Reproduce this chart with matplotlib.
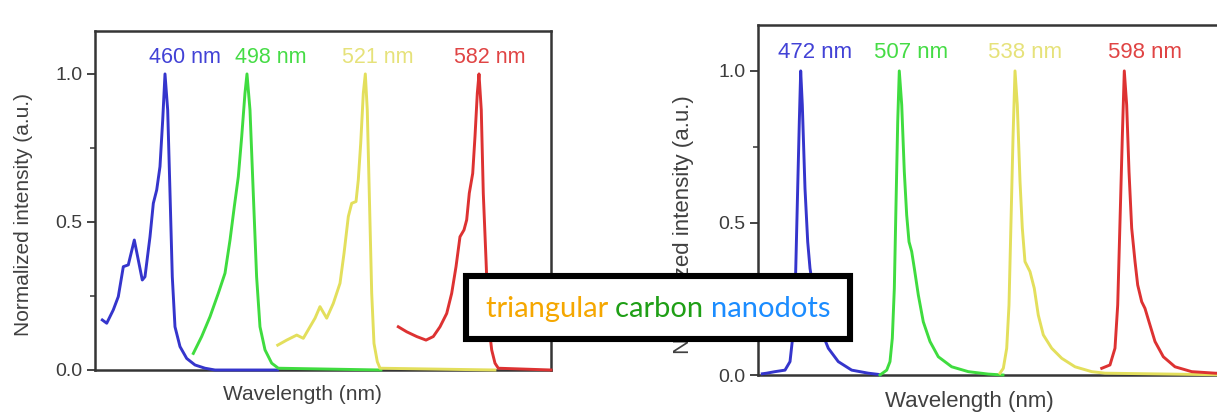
import matplotlib
matplotlib.use("Agg")
import matplotlib.pyplot as plt
from matplotlib.patches import Rectangle
from matplotlib.ticker import MultipleLocator

plt.rcParams["font.family"] = ["Liberation Sans", "DejaVu Sans"]

# emission spectra, x in arbitrary position units (0-100 across each panel)
# left panel
l_blue_x = [1.6, 2.57, 4.01, 5.11, 6.21, 7.30, 8.62, 9.49, 10.37, 10.96, 12.06, 12.79, 13.53,
            14.25, 14.85, 15.35, 15.94, 16.45, 16.95, 17.54, 18.64, 20.11, 21.93, 24.12, 26.32, 40.0]
l_blue_y = [0.169, 0.158, 0.203, 0.248, 0.349, 0.355, 0.439, 0.372, 0.304, 0.315, 0.45, 0.563, 0.608,
            0.687, 0.845, 1.0, 0.878, 0.597, 0.315, 0.146, 0.079, 0.039, 0.017, 0.006, 0.0, 0.0]
l_green_x = [21.56, 23.39, 25.22, 27.04, 28.51, 29.61, 30.55, 31.43, 32.17, 32.89, 33.33, 33.99,
             34.71, 35.44, 36.18, 37.28, 38.75, 40.20, 62.7]
l_green_y = [0.056, 0.113, 0.18, 0.259, 0.327, 0.439, 0.552, 0.653, 0.788, 0.935, 1.0, 0.878,
             0.597, 0.315, 0.146, 0.068, 0.023, 0.006, 0.0]
l_yellow_x = [40.07, 42.04, 44.24, 45.68, 47.15, 48.25, 49.34, 50.81, 52.26, 53.73, 54.61, 55.55,
              56.29, 57.24, 57.74, 58.27, 58.84, 59.28, 59.71, 60.15, 60.68, 61.18, 61.91, 62.5, 87.7]
l_yellow_y = [0.084, 0.101, 0.118, 0.107, 0.146, 0.175, 0.214, 0.175, 0.225, 0.293, 0.394, 0.518,
              0.563, 0.569, 0.642, 0.766, 0.935, 1.0, 0.878, 0.597, 0.259, 0.09, 0.028, 0.006, 0.0]
l_red_x = [66.51, 68.36, 70.55, 72.59, 74.19, 75.66, 77.13, 78.22, 79.17, 80.04, 80.92, 81.51,
           82.08, 82.83, 83.33, 83.84, 84.21, 84.71, 85.15, 85.75, 86.25, 86.99, 87.72, 88.44, 100]
l_red_y = [0.146, 0.129, 0.113, 0.101, 0.113, 0.146, 0.191, 0.259, 0.349, 0.45, 0.473, 0.507,
           0.597, 0.664, 0.788, 0.935, 1.0, 0.878, 0.597, 0.372, 0.169, 0.068, 0.023, 0.006, 0.0]
l_peaks = ["460 nm", "498 nm", "521 nm", "582 nm"]
l_peak_x = [19.7, 38.6, 62.1, 86.6]

# right panel
r_blue_x = [0.9, 1.82, 3.56, 5.66, 6.71, 7.40, 7.90, 8.32, 8.66, 8.95, 9.29, 9.85, 10.42, 10.90,
            11.95, 13.35, 14.74, 16.83, 19.64, 23.12, 25.22, 25.58]
r_blue_y = [0.004, 0.006, 0.011, 0.016, 0.044, 0.142, 0.34, 0.614, 0.833, 1.0, 0.888, 0.614, 0.438,
            0.351, 0.241, 0.142, 0.088, 0.044, 0.016, 0.006, 0.002, 0.0]
r_green_x = [25.58, 26.98, 27.67, 28.16, 28.58, 28.93, 29.29, 29.62, 30.13, 30.67, 31.17, 31.66,
             32.22, 32.77, 33.61, 34.65, 36.06, 37.80, 40.61, 44.09, 48.28, 51.36]
r_green_y = [0.0, 0.016, 0.044, 0.121, 0.285, 0.559, 0.833, 1.0, 0.888, 0.669, 0.526, 0.438,
             0.406, 0.351, 0.263, 0.175, 0.11, 0.06, 0.027, 0.011, 0.003, 0.0]
r_yellow_x = [50.73, 51.43, 52.14, 52.62, 53.04, 53.46, 53.88, 54.36, 54.93, 55.41, 55.97, 57.02,
              57.92, 58.76, 59.81, 61.57, 63.67, 66.46, 69.96, 72.75, 100]
r_yellow_y = [0.006, 0.022, 0.088, 0.23, 0.504, 0.779, 1.0, 0.888, 0.636, 0.483, 0.373, 0.34,
              0.285, 0.197, 0.132, 0.088, 0.055, 0.027, 0.011, 0.006, 0.0]
r_red_x = [72.06, 73.79, 74.84, 75.41, 75.89, 76.37, 76.79, 77.29, 77.78, 78.34, 79.04, 79.6,
           80.44, 81.13, 81.97, 83.23, 84.97, 87.42, 90.92, 95.81, 100]
r_red_y = [0.022, 0.033, 0.088, 0.23, 0.504, 0.779, 1.0, 0.888, 0.669, 0.483, 0.373, 0.296,
           0.241, 0.219, 0.175, 0.11, 0.06, 0.027, 0.011, 0.006, 0.004]
r_peaks = ["472 nm", "507 nm", "538 nm", "598 nm"]
r_peak_x = [11.95, 32.08, 55.97, 81.13]

line_colors = ["#3535cc", "#3fdc3f", "#e3df5c", "#dd3232"]
label_colors = ["#4242d6", "#45dc45", "#e6e27a", "#e04444"]

W, H = 1217, 416
fig = plt.figure(figsize=(W / 100, H / 100), dpi=100)
axL = fig.add_axes([95 / W, 46 / H, 456 / W, 339 / H])
axR = fig.add_axes([758 / W, 41 / H, 477 / W, 350 / H])


def style(ax, ytop, fs_lab):
    ax.set_xlim(0, 100)
    ax.set_ylim(0, ytop)
    ax.set_xticks([])
    ax.yaxis.set_major_locator(MultipleLocator(0.5))
    ax.yaxis.set_minor_locator(MultipleLocator(0.25))
    ax.yaxis.set_major_formatter(lambda v, p: f"{v:.1f}")
    ax.tick_params(axis="y", which="major", direction="out", length=6, width=1.4,
                   color="#444444", labelsize=14, labelcolor="#3c3c3c", pad=3)
    ax.tick_params(axis="y", which="minor", direction="out", length=3.5, width=1.2, color="#444444")
    for s in ax.spines.values():
        s.set_linewidth(1.8)
        s.set_color("#353535")
    ax.set_xlabel("Wavelength (nm)", fontsize=fs_lab, color="#404040")
    ax.set_ylabel("Normalized intensity (a.u.)", fontsize=fs_lab, color="#404040")


style(axL, 1.145, 15)
style(axR, 1.151, 16)
axL.xaxis.set_label_coords(0.454, -0.045)
axL.yaxis.set_label_coords(-0.137, 0.46)
axR.xaxis.set_label_coords(0.444, -0.045)
axR.yaxis.set_label_coords(-0.134, 0.43)

left = [(l_blue_x, l_blue_y), (l_green_x, l_green_y), (l_yellow_x, l_yellow_y), (l_red_x, l_red_y)]
right = [(r_blue_x, r_blue_y), (r_green_x, r_green_y), (r_yellow_x, r_yellow_y), (r_red_x, r_red_y)]

for ax, curves, names, pos, ly, fs in [(axL, left, l_peaks, l_peak_x, 1.054, 15.5),
                                       (axR, right, r_peaks, r_peak_x, 1.062, 16)]:
    for (x, y), c in zip(curves, line_colors):
        ax.plot(x, y, color=c, lw=2.1, solid_joinstyle="round", zorder=3, clip_on=False)
    for name, px, c in zip(names, pos, label_colors):
        ax.text(px, ly, name, color=c, fontsize=fs, ha="center", va="center")

# caption box drawn over both panels
fig.add_artist(Rectangle((466 / W, 77 / H), 384 / W, 63 / H, transform=fig.transFigure,
                         facecolor="white", edgecolor="black", lw=4.4, zorder=10))
words = ["triangular", "carbon", "nanodots"]
word_colors = ["#f5a700", "#1f9f16", "#1b8cff"]
fig.canvas.draw()
r = fig.canvas.get_renderer()
parts = [w + (" " if i < len(words) - 1 else "") for i, w in enumerate(words)]
texts = [fig.text(0, 99 / H, p, fontsize=21, family="Lato", color=c, va="baseline", zorder=11)
         for p, c in zip(parts, word_colors)]
widths = [t.get_window_extent(r).width for t in texts]
x0 = 658 - sum(widths) / 2
for t, w in zip(texts, widths):
    t.set_x(x0 / W)
    x0 += w

fig.savefig("out.png", dpi=100)
